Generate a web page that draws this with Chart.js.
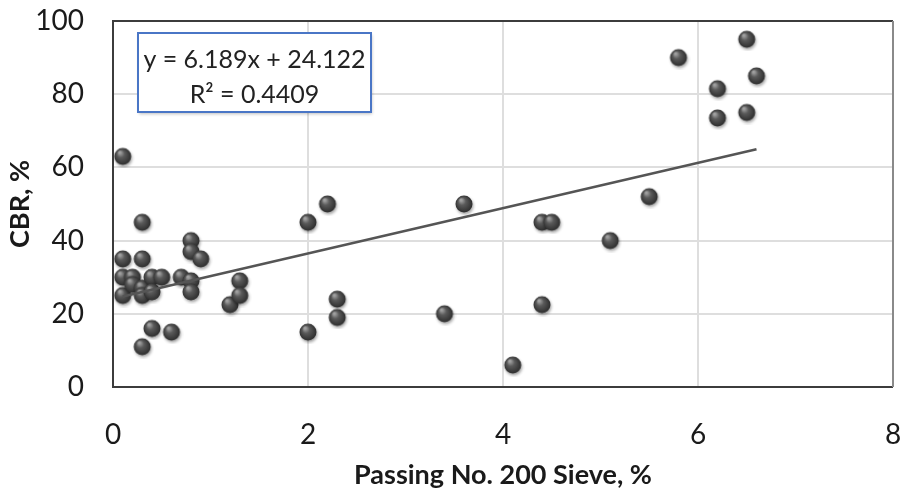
<!DOCTYPE html>
<html>
<head>
<meta charset="utf-8">
<script src="https://cdn.jsdelivr.net/npm/chart.js@4.4.1/dist/chart.umd.min.js"></script>
<style>
  html, body { margin: 0; padding: 0; background: #fff; }
  #wrap { width: 904px; height: 492px; position: relative; }
</style>
</head>
<body>
<div id="wrap"><canvas id="cbrChart"></canvas></div>
<script>
// values
const passing200 = [0.1, 0.1, 0.1, 0.1, 0.2, 0.2, 0.3, 0.3, 0.3, 0.3, 0.3, 0.4, 0.4, 0.4, 0.5, 0.6, 0.7,
    0.8, 0.8, 0.8, 0.8, 0.9, 1.2, 1.3, 1.3, 2.0, 2.0, 2.2, 2.3, 2.3, 3.4, 3.6, 4.1, 4.4, 4.4, 4.5,
    5.1, 5.5, 5.8, 6.2, 6.2, 6.5, 6.5, 6.6];
const cbr = [63, 35, 30, 25, 30, 28, 45, 35, 27, 25, 11, 30, 26, 16, 30, 15, 30,
    40, 37, 29, 26, 35, 22.5, 29, 25, 45, 15, 50, 24, 19, 20, 50, 6, 45, 22.5, 45,
    40, 52, 90, 81.5, 73.5, 95, 75, 85];

const trendSlope = 6.189;
const trendIntercept = 24.122;
const rSquared = 0.4409;

const xTicks = [0, 2, 4, 6, 8];
const yTicks = [0, 20, 40, 60, 80, 100];

const xTitle = 'Passing No. 200 Sieve, %';
const yTitle = 'CBR, %';

document.addEventListener('DOMContentLoaded', function() {
    // shaded ball used as the marker
    function makeBall() {
        const c = document.createElement('canvas');
        c.width = 24;
        c.height = 24;
        const g = c.getContext('2d');
        g.shadowColor = 'rgba(0,0,0,0.35)';
        g.shadowBlur = 3;
        g.shadowOffsetX = 1;
        g.shadowOffsetY = 2;
        const grad = g.createRadialGradient(9, 8, 1, 12, 12, 9);
        grad.addColorStop(0, '#a0a0a0');
        grad.addColorStop(0.35, '#5a5a5a');
        grad.addColorStop(1, '#2a2a2a');
        g.fillStyle = grad;
        g.beginPath();
        g.arc(12, 12, 8.5, 0, Math.PI * 2);
        g.fill();
        return c;
    }

    const points = passing200.map((x, i) => ({ x: x, y: cbr[i] }));
    const xMin = Math.min(...passing200);
    const xMax = Math.max(...passing200);
    const trend = [xMin, xMax].map(x => ({ x: x, y: trendSlope * x + trendIntercept }));

    const frame = {
        id: 'frame',
        beforeDatasetsDraw(chart) {
            const a = chart.chartArea;
            const ctx = chart.ctx;
            ctx.save();
            ctx.lineWidth = 2;
            ctx.strokeStyle = '#3c3c3c';
            ctx.beginPath();
            ctx.moveTo(a.right, a.top);
            ctx.lineTo(a.left, a.top);
            ctx.lineTo(a.left, a.bottom);
            ctx.lineTo(a.right, a.bottom);
            ctx.stroke();
            ctx.strokeStyle = '#8a8a8a';
            ctx.beginPath();
            ctx.moveTo(a.right, a.top);
            ctx.lineTo(a.right, a.bottom);
            ctx.stroke();
            ctx.restore();
        }
    };

    const eqBox = {
        id: 'eqBox',
        afterDraw(chart) {
            const ctx = chart.ctx;
            const x = 138, y = 33, w = 233, h = 79;
            ctx.save();
            ctx.shadowColor = 'rgba(0,0,0,0.25)';
            ctx.shadowBlur = 3;
            ctx.shadowOffsetX = 1;
            ctx.shadowOffsetY = 2;
            ctx.fillStyle = '#fff';
            ctx.fillRect(x, y, w, h);
            ctx.shadowColor = 'transparent';
            ctx.strokeStyle = '#4a76c6';
            ctx.lineWidth = 2;
            ctx.strokeRect(x, y, w, h);
            ctx.fillStyle = '#222';
            ctx.font = '25px Lato';
            ctx.textAlign = 'center';
            ctx.textBaseline = 'middle';
            ctx.fillText('y = ' + trendSlope + 'x + ' + trendIntercept, x + w / 2, y + 27);
            ctx.fillText('R\u00B2 = ' + rSquared, x + w / 2, y + 62);
            ctx.restore();
        }
    };

    new Chart(document.getElementById('cbrChart').getContext('2d'), {
        type: 'scatter',
        data: {
            datasets: [{
                type: 'line',
                label: 'Trend',
                data: trend,
                borderColor: '#555',
                borderWidth: 2.5,
                pointRadius: 0,
                fill: false,
                order: 0
            }, {
                label: 'CBR',
                data: points,
                pointStyle: makeBall(),
                pointRadius: 8,
                order: 1
            }]
        },
        options: {
            responsive: true,
            maintainAspectRatio: false,
            animation: false,
            layout: { padding: { top: 21, right: 11, left: 0, bottom: 0 } },
            scales: {
                x: {
                    type: 'linear',
                    min: 0,
                    max: 8,
                    afterBuildTicks: s => { s.ticks = xTicks.map(v => ({ value: v })); },
                    afterFit: s => { s.height = 105; s.paddingLeft = 0; s.paddingRight = 0; },
                    grid: { color: '#dedede', lineWidth: 2, drawTicks: false },
                    border: { display: false },
                    ticks: { color: '#1a1a1a', font: { family: 'Lato', size: 28 }, padding: 31, maxRotation: 0 },
                    title: {
                        display: true,
                        text: xTitle,
                        color: '#1a1a1a',
                        font: { family: 'Lato', size: 27, weight: 'bold' },
                        padding: { top: 0, bottom: 1 }
                    }
                },
                y: {
                    min: 0,
                    max: 100,
                    afterBuildTicks: s => { s.ticks = yTicks.map(v => ({ value: v })); },
                    afterFit: s => { s.width = 113; s.paddingTop = 0; s.paddingBottom = 0; },
                    grid: { color: '#dedede', lineWidth: 2, drawTicks: false },
                    border: { display: false },
                    ticks: { color: '#1a1a1a', font: { family: 'Lato', size: 28 }, padding: 29 },
                    title: {
                        display: true,
                        text: yTitle,
                        color: '#1a1a1a',
                        font: { family: 'Lato', size: 27, weight: 'bold' },
                        padding: { top: 4, bottom: 0 }
                    }
                }
            },
            plugins: {
                legend: { display: false },
                tooltip: { enabled: false }
            }
        },
        plugins: [frame, eqBox]
    });
});
</script>
</body>
</html>
